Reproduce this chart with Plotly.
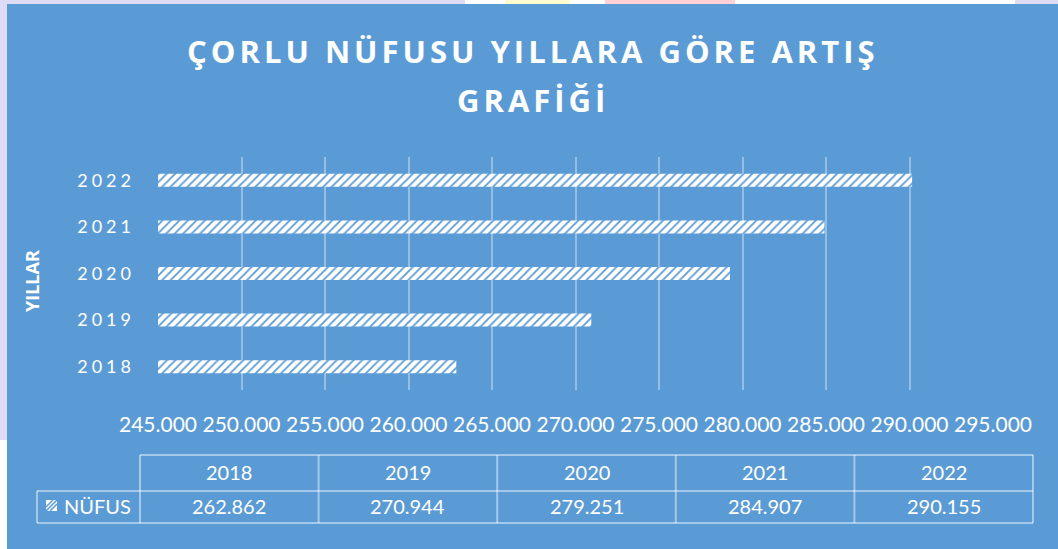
import plotly.graph_objects as go

# ---- data ----
years = ["2018", "2019", "2020", "2021", "2022"]
population = [262862, 270944, 279251, 284907, 290155]
series_name = "NÜFUS"
x_ticks = [245000, 250000, 255000, 260000, 265000, 270000, 275000, 280000, 285000, 290000, 295000]
title_line1 = "ÇORLU NÜFUSU YILLARA GÖRE ARTIŞ"
title_line2 = "GRAFİĞİ"
y_title = "YILLAR"

W, H = 1058, 549
BLUE = "#5B9BD5"
L, R, T, B = 158, 993, 157, 390  # plot area in pixels


def px(x):
    return (x - L) / (R - L)


def py(y):
    return (B - y) / (B - T)


def fmt(v):
    return f"{v:,}".replace(",", ".")


def spaced(s, sp):
    return f'<span style="letter-spacing:{sp}px">{s}</span>'


fig = go.Figure()
fig.add_trace(go.Bar(
    y=years, x=population, orientation="h", name=series_name,
    marker=dict(color="white", line=dict(width=0),
                pattern=dict(shape="/", fgcolor=BLUE, bgcolor="white",
                             size=6, solidity=0.3, fillmode="replace")),
    hoverinfo="x+y",
))

shapes = []
# background decorations
shapes.append(dict(type="rect", xref="paper", yref="paper", x0=px(0), x1=px(W), y0=py(0), y1=py(H),
                   fillcolor="white", line=dict(width=0), layer="below"))
for (a, b, c) in [(0, 465, "#DEDBF4"), (505, 570, "#FFFDD0"), (605, 735, "#FFD0D6"), (1015, 1058, "#DEDBF4")]:
    shapes.append(dict(type="rect", xref="paper", yref="paper", x0=px(a), x1=px(b), y0=py(0), y1=py(4),
                       fillcolor=c, line=dict(width=0), layer="below"))
shapes.append(dict(type="rect", xref="paper", yref="paper", x0=px(0), x1=px(7), y0=py(0), y1=py(440),
                   fillcolor="#DEDBF4", line=dict(width=0), layer="below"))
# blue chart area
shapes.append(dict(type="rect", xref="paper", yref="paper", x0=px(7), x1=px(W), y0=py(4), y1=py(H),
                   fillcolor=BLUE, line=dict(width=0), layer="below"))

# data table
LINE = "rgba(255,255,255,0.45)"
col_edges = [140 + i * (1033 - 140) / len(years) for i in range(len(years) + 1)]
row_top, row_mid, row_bot = 455, 491, 523
leg_left = 37
shapes.append(dict(type="line", xref="paper", yref="paper", x0=px(col_edges[0]), x1=px(col_edges[-1]),
                   y0=py(row_top), y1=py(row_top), line=dict(color=LINE, width=2)))
shapes.append(dict(type="line", xref="paper", yref="paper", x0=px(leg_left), x1=px(col_edges[-1]),
                   y0=py(row_mid), y1=py(row_mid), line=dict(color=LINE, width=2)))
shapes.append(dict(type="line", xref="paper", yref="paper", x0=px(leg_left), x1=px(col_edges[-1]),
                   y0=py(row_bot), y1=py(row_bot), line=dict(color=LINE, width=2)))
shapes.append(dict(type="line", xref="paper", yref="paper", x0=px(leg_left), x1=px(leg_left),
                   y0=py(row_mid), y1=py(row_bot), line=dict(color=LINE, width=2)))
for e in col_edges:
    shapes.append(dict(type="line", xref="paper", yref="paper", x0=px(e), x1=px(e),
                       y0=py(row_top), y1=py(row_bot), line=dict(color=LINE, width=2)))
# legend key (hatched square)
shapes.append(dict(type="rect", xref="paper", yref="paper", x0=px(46), x1=px(57), y0=py(500), y1=py(511),
                   fillcolor="white", line=dict(width=0)))
for k in (-4, 0, 4):
    shapes.append(dict(type="line", xref="paper", yref="paper", x0=px(46 + max(k, 0)), x1=px(57 + min(k, 0)),
                       y0=py(511 - max(-k, 0)), y1=py(500 + max(k, 0)), line=dict(color=BLUE, width=1.5)))

TXT = "Lato"
TFONT = dict(family="Open Sans", size=31, color="white")
annotations = [
    dict(text=f"<b>{spaced(title_line1, 4)}</b>", xref="paper", yref="paper", x=px(533), y=py(51),
         showarrow=False, font=TFONT, xanchor="center", yanchor="middle"),
    dict(text=f"<b>{spaced(title_line2, 4)}</b>", xref="paper", yref="paper", x=px(533), y=py(100),
         showarrow=False, font=TFONT, xanchor="center", yanchor="middle"),
    dict(text=f"<b>{y_title}</b>", xref="paper", yref="paper", x=px(32), y=py(281), textangle=-90,
         showarrow=False, font=dict(family="Open Sans", size=18, color="white"), xanchor="center", yanchor="middle"),
    dict(text=series_name, xref="paper", yref="paper", x=px(62), y=py(506), showarrow=False,
         font=dict(family=TXT, size=20, color="white"), xanchor="left", yanchor="middle"),
]
for i, (yr, v) in enumerate(zip(years, population)):
    cx = (col_edges[i] + col_edges[i + 1]) / 2
    annotations.append(dict(text=yr, xref="paper", yref="paper", x=px(cx), y=py(472), showarrow=False,
                            font=dict(family=TXT, size=20, color="white"), xanchor="center", yanchor="middle"))
    annotations.append(dict(text=fmt(v), xref="paper", yref="paper", x=px(cx), y=py(506), showarrow=False,
                            font=dict(family=TXT, size=20, color="white"), xanchor="center", yanchor="middle"))

fig.update_layout(
    width=W, height=H,
    margin=dict(l=L, r=W - R, t=T, b=H - B, pad=0),
    paper_bgcolor=BLUE, plot_bgcolor="rgba(0,0,0,0)",
    separators=",.",
    showlegend=False,
    bargap=0.72,
    shapes=shapes,
    annotations=annotations,
    xaxis=dict(range=[x_ticks[0], x_ticks[-1]], tickvals=x_ticks, tickformat=",",
               showgrid=True, gridcolor="rgba(255,255,255,0.35)", gridwidth=1.5,
               zeroline=False, showline=False, ticks="",
               tickfont=dict(family=TXT, size=21, color="white"), ticklabelstandoff=20),
    yaxis=dict(categoryorder="array", categoryarray=years, tickvals=years,
               ticktext=[spaced(y, 4) for y in years],
               showgrid=False, zeroline=False,
               showline=False, ticks="", ticklabelstandoff=22,
               tickfont=dict(family=TXT, size=18, color="white")),
)

fig.write_html("out.html", config={"displayModeBar": False},
               post_script="document.body.style.margin='0';document.body.style.overflow='hidden';")
